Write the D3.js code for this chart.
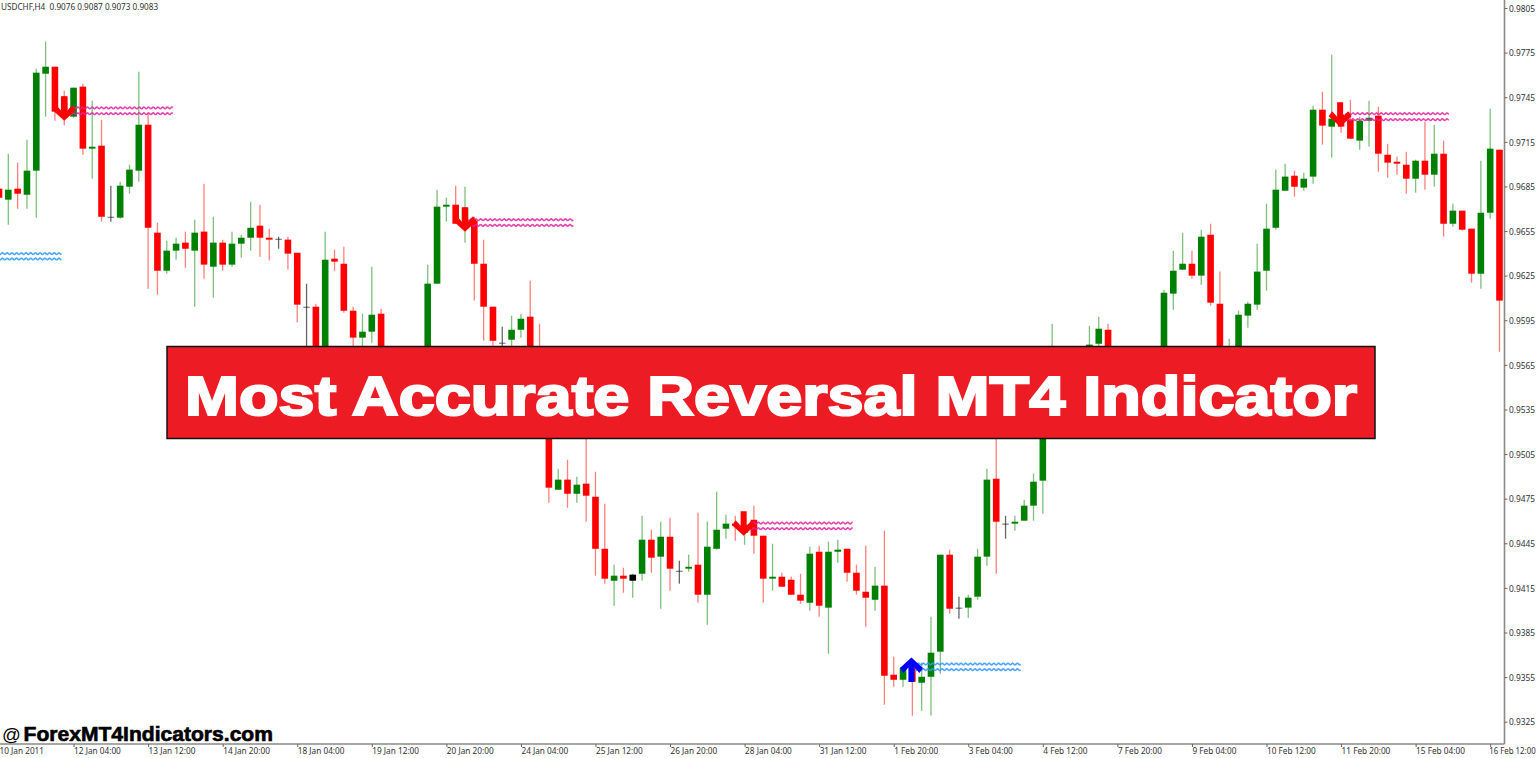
<!DOCTYPE html>
<html>
<head>
<meta charset="utf-8">
<title>USDCHF,H4</title>
<script src="https://cdn.jsdelivr.net/npm/d3@7"></script>
<style>
html,body{margin:0;padding:0;background:#fff;overflow:hidden}
svg{display:block}
text{font-family:"Noto Sans",sans-serif}
</style>
</head>
<body>
<script>
const opens=[0.96835,0.96761,0.96835,0.96794,0.96956,0.97608,0.97655,0.97454,0.97319,0.97521,
0.97104,0.97124,0.96646,0.96640,0.96848,0.96956,0.97265,0.96539,0.96283,0.96418,
0.96472,0.96418,0.96546,0.96310,0.96472,0.96324,0.96465,0.96505,0.96586,0.96505,
0.96498,0.96492,0.96404,0.96041,0.96041,0.95550,0.96364,0.96330,0.96014,0.95833,
0.95873,0.95994,0.95584,0.95449,0.95516,0.95631,0.95416,0.96196,0.96714,0.96727,
0.96586,0.96620,0.96330,0.96041,0.95799,0.95819,0.95886,0.95974,0.95685,0.95604,
0.94810,0.94878,0.94783,0.94851,0.94763,0.94413,0.94198,0.94232,0.94198,0.94245,
0.94474,0.94360,0.94494,0.94265,0.94279,0.94306,0.94104,0.94413,0.94548,0.94582,
0.94521,0.94608,0.94501,0.94212,0.94225,0.94205,0.94104,0.94050,0.94393,0.94017,
0.94393,0.94413,0.94252,0.94124,0.94070,0.94165,0.93566,0.93532,0.93613,0.93512,
0.93552,0.93721,0.94373,0.94017,0.94017,0.94091,0.94360,0.94884,0.94582,0.94582,
0.94602,0.94703,0.94871,0.95247,0.95617,0.95469,0.95416,0.95617,0.95792,0.95886,
0.95671,0.95469,0.95591,0.95496,0.95584,0.95584,0.96129,0.96290,0.96330,0.96250,
0.96525,0.96061,0.95550,0.95449,0.95981,0.96055,0.96283,0.96572,0.96821,0.96922,
0.96842,0.96916,0.97366,0.97252,0.97333,0.97299,0.97158,0.97292,0.97326,0.97063,
0.97016,0.96996,0.96902,0.97023,0.96929,0.97070,0.96599,0.96687,0.96566,0.96263,
0.96673,0.97097];
const highs=[0.96895,0.97070,0.97010,0.97164,0.97642,0.97824,0.97655,0.97494,0.97514,0.97541,
0.97427,0.97299,0.96855,0.96882,0.96996,0.97622,0.97346,0.96606,0.96485,0.96505,
0.96546,0.96626,0.96868,0.96646,0.96492,0.96546,0.96525,0.96747,0.96727,0.96566,
0.96512,0.96512,0.96404,0.96196,0.96061,0.96546,0.96424,0.96445,0.96041,0.95994,
0.96310,0.96028,0.95617,0.95651,0.95685,0.95718,0.96324,0.96828,0.96774,0.96855,
0.96848,0.96646,0.96492,0.96041,0.95907,0.95981,0.95994,0.96216,0.95927,0.95651,
0.94952,0.95012,0.94898,0.95281,0.94931,0.94716,0.94306,0.94286,0.94245,0.94635,
0.94541,0.94595,0.94622,0.94333,0.94373,0.94656,0.94595,0.94797,0.94642,0.94635,
0.94642,0.94703,0.94501,0.94447,0.94252,0.94225,0.94245,0.94427,0.94434,0.94461,
0.94474,0.94413,0.94306,0.94434,0.94292,0.94535,0.93687,0.93613,0.93613,0.93647,
0.93956,0.94373,0.94407,0.94091,0.94104,0.94413,0.94952,0.95281,0.94635,0.94635,
0.94743,0.94918,0.95281,0.95927,0.95671,0.95550,0.95698,0.95913,0.95974,0.95927,
0.95718,0.95698,0.95671,0.95685,0.95752,0.96155,0.96418,0.96539,0.96418,0.96559,
0.96599,0.96277,0.95826,0.96014,0.96075,0.96465,0.96734,0.96963,0.97003,0.96956,
0.96942,0.97393,0.97487,0.97736,0.97420,0.97433,0.97319,0.97427,0.97386,0.97137,
0.97050,0.97084,0.97030,0.97285,0.97265,0.97158,0.96734,0.96687,0.96566,0.97023,
0.97373,0.97097];
const lows=[0.96727,0.96593,0.96700,0.96700,0.96640,0.97319,0.97292,0.97259,0.97312,0.97063,
0.96902,0.96613,0.96613,0.96633,0.96801,0.96882,0.96162,0.96122,0.96263,0.96357,
0.96303,0.96041,0.96229,0.96102,0.96283,0.96310,0.96371,0.96418,0.96377,0.96351,
0.96431,0.96290,0.95934,0.95617,0.95348,0.95416,0.96283,0.96001,0.95752,0.95752,
0.95799,0.95449,0.95348,0.95382,0.95449,0.95469,0.95315,0.96196,0.96613,0.96599,
0.96472,0.96082,0.95812,0.95779,0.95752,0.95752,0.95833,0.95516,0.95550,0.94723,
0.94810,0.94689,0.94723,0.94595,0.94232,0.94178,0.94030,0.94117,0.94084,0.94198,
0.94252,0.94010,0.94131,0.94178,0.94259,0.94050,0.93902,0.94407,0.94481,0.94467,
0.94440,0.94380,0.94050,0.94131,0.94158,0.94104,0.94043,0.93996,0.93956,0.93707,
0.94319,0.94192,0.94104,0.93889,0.93996,0.93364,0.93485,0.93485,0.93290,0.93324,
0.93290,0.93573,0.93976,0.93943,0.93949,0.94070,0.94299,0.94245,0.94481,0.94535,
0.94602,0.94602,0.94649,0.95200,0.95402,0.95335,0.95348,0.95550,0.95752,0.95604,
0.95449,0.95416,0.95348,0.95429,0.95516,0.95516,0.96021,0.96290,0.96229,0.96189,
0.96048,0.95449,0.95449,0.95348,0.95900,0.96021,0.96149,0.96559,0.96821,0.96781,
0.96821,0.96868,0.97131,0.97043,0.97211,0.97171,0.97097,0.97117,0.96949,0.96909,
0.96929,0.96801,0.96808,0.96828,0.96848,0.96512,0.96579,0.96552,0.96203,0.96162,
0.96633,0.95738];
const closes=[0.96774,0.96828,0.96801,0.96956,0.97615,0.97655,0.97353,0.97319,0.97514,0.97104,
0.97117,0.96646,0.96646,0.96855,0.96963,0.97265,0.96572,0.96283,0.96418,0.96465,
0.96431,0.96539,0.96324,0.96472,0.96324,0.96465,0.96505,0.96572,0.96505,0.96492,
0.96498,0.96398,0.96055,0.96041,0.95483,0.96357,0.96344,0.96014,0.95833,0.95873,
0.95987,0.95550,0.95449,0.95550,0.95617,0.95537,0.96196,0.96714,0.96727,0.96599,
0.96707,0.96330,0.96041,0.95812,0.95799,0.95886,0.95960,0.95617,0.95604,0.94824,
0.94878,0.94783,0.94844,0.94770,0.94413,0.94212,0.94232,0.94212,0.94239,0.94474,
0.94353,0.94494,0.94279,0.94265,0.94292,0.94104,0.94427,0.94541,0.94582,0.94568,
0.94575,0.94501,0.94212,0.94225,0.94158,0.94104,0.94064,0.94380,0.94030,0.94393,
0.94407,0.94252,0.94131,0.94084,0.94165,0.93559,0.93532,0.93613,0.93519,0.93552,
0.93714,0.94373,0.94010,0.94017,0.94084,0.94360,0.94878,0.94595,0.94582,0.94595,
0.94703,0.94864,0.95247,0.95685,0.95449,0.95382,0.95617,0.95786,0.95893,0.95685,
0.95516,0.95604,0.95483,0.95617,0.95685,0.96135,0.96283,0.96330,0.96250,0.96512,
0.96068,0.95516,0.95685,0.95987,0.96061,0.96277,0.96566,0.96828,0.96916,0.96848,
0.96902,0.97366,0.97259,0.97306,0.97252,0.97171,0.97292,0.97312,0.97070,0.97010,
0.97003,0.96902,0.97023,0.96929,0.97070,0.96599,0.96687,0.96559,0.96263,0.96673,
0.97104,0.96082];
const blackBodyBars=[68];

const priceTicks=[0.9805,0.9775,0.9745,0.9715,0.9685,0.9655,0.9625,0.9595,0.9565,0.9535,0.9505,0.9475,0.9445,0.9415,0.9385,0.9355,0.9325];
const timeLabels=["10 Jan 2011","12 Jan 04:00","13 Jan 12:00","14 Jan 20:00","18 Jan 04:00","19 Jan 12:00","20 Jan 20:00","24 Jan 04:00","25 Jan 12:00","26 Jan 20:00","28 Jan 04:00","31 Jan 12:00","1 Feb 20:00","3 Feb 04:00","4 Feb 12:00","7 Feb 20:00","9 Feb 04:00","10 Feb 12:00","11 Feb 20:00","15 Feb 04:00","16 Feb 12:00"];
const timeBars=[0,8,16,24,32,40,48,56,64,72,80,88,96,104,112,120,128,136,144,152,160];

const arrowBars=[7,50,79.9,97.9,143.9];
const arrowPrices=[0.97292,0.96546,0.94501,0.93682,0.97252];
const arrowDirections=["down","down","down","up","down"];

const waveStarts=[7.6,50.3,80.6,144.4,0,98.3];
const waveEnds=[18.67,61.65,91.6,155.6,6.73,109.65];
const waveUpper=[0.97378,0.96626,0.94586,0.97339,0.96398,0.93638];
const waveLower=[0.97339,0.96588,0.94548,0.97299,0.96362,0.93600];
const waveKinds=["sell","sell","sell","sell","buy","buy"];

const chartTitle="USDCHF,H4  0.9076 0.9087 0.9073 0.9083";
const bannerText="Most Accurate Reversal MT4 Indicator";
const footerAt="@";
const footerText="ForexMT4Indicators.com";

const W=1536,H=758,axisX=1504.5,axisY=744;
const GREEN="#008000",RED="#ff0000",PINK="#e0259c",AZURE="#2f96ff";
const x=d3.scaleLinear().domain([0,161]).range([-1,1499.5]);
const y=d3.scaleLinear().domain([0.9325,0.9805]).range([721.7,8]);

const svg=d3.select("body").append("svg").attr("width",W).attr("height",H).attr("viewBox",`0 0 ${W} ${H}`);
svg.append("rect").attr("width",W).attr("height",H).attr("fill","#fff");
const defs=svg.append("defs");
defs.append("filter").attr("id","soft").attr("filterUnits","userSpaceOnUse")
  .attr("x",0).attr("y",0).attr("width",W).attr("height",H)
  .append("feGaussianBlur").attr("stdDeviation",0.35);
defs.append("clipPath").attr("id","plot").append("rect").attr("width",axisX).attr("height",axisY);

const bars=opens.map((o,i)=>({i,o,h:highs[i],l:lows[i],c:closes[i],black:blackBodyBars.includes(i)}));
const col=d=>d.o===d.c?"#000":(d.c>d.o?GREEN:RED);

const plot=svg.append("g").attr("clip-path","url(#plot)").append("g").attr("filter","url(#soft)");
plot.selectAll("line.wick").data(bars).join("line").attr("class","wick")
  .attr("x1",d=>x(d.i)).attr("x2",d=>x(d.i)).attr("y1",d=>y(d.h)).attr("y2",d=>y(d.l))
  .attr("stroke",col).attr("stroke-width",1.3).attr("stroke-opacity",d=>d.o===d.c?0.6:0.5);
const bw=6.6;
plot.selectAll("rect.body").data(bars).join("rect").attr("class","body")
  .attr("x",d=>x(d.i)-bw/2).attr("width",bw)
  .attr("y",d=>y(Math.max(d.o,d.c)))
  .attr("height",d=>d.o===d.c?1:Math.max(1.6,y(Math.min(d.o,d.c))-y(Math.max(d.o,d.c))))
  .attr("fill",d=>d.black?"#000":col(d))
  .attr("fill-opacity",d=>d.o===d.c?0.6:1);

// indicator wave lines
const waves=plot.append("g");
waveStarts.forEach((s,k)=>{
  const x0=x(s),x1=x(waveEnds[k]);
  [waveUpper[k],waveLower[k]].forEach(p=>{
    const yy=y(p),pts=[];
    for(let px=x0;px<=x1;px+=0.5) pts.push([px,yy+0.8*Math.sin((px-x0)*2*Math.PI/4.7)]);
    waves.append("path").attr("d",d3.line()(pts)).attr("fill","none")
      .attr("stroke",waveKinds[k]==="sell"?PINK:AZURE).attr("stroke-width",1.6).attr("stroke-opacity",0.85);
  });
});

// reversal arrows: fixed glyph anchored at bar and tip price
plot.selectAll("path.arrow").data(arrowBars.map((b,k)=>({b,p:arrowPrices[k],dir:arrowDirections[k]}))).join("path")
  .attr("class","arrow")
  .attr("transform",d=>`translate(${x(d.b)},${y(d.p)}) scale(1,${d.dir==="up"?-1:1})`)
  .attr("d","M0 0L-11.5 -10.5L-8 -15.5L-3 -10L-3 -24.5L3 -24.5L3 -10L8 -15.5L11.5 -10.5Z")
  .attr("fill",d=>d.dir==="up"?"#0000ff":RED);

// axes (small labels squeezed horizontally, as in the resized terminal screenshot)
const gy=svg.append("g").attr("transform",`translate(${axisX},0)`)
  .call(d3.axisRight(y).tickValues(priceTicks).tickSize(3).tickPadding(1.5).tickFormat(d3.format(".4f")));
gy.select(".domain").attr("d",`M0 0V${axisY}`).attr("stroke","#8a8a8a").attr("stroke-width",1.6);
gy.selectAll(".tick line").attr("stroke","#666");
gy.selectAll(".tick text").attr("font-size",9.6).attr("fill","#333").style("font-family",'"Noto Sans",sans-serif').attr("dy","0.34em")
  .attr("x",0).attr("transform","translate(4.5,0) scale(0.87,1)");

const gx=svg.append("g").attr("transform",`translate(0,${axisY})`)
  .call(d3.axisBottom(x).tickValues(timeBars).tickSize(3).tickPadding(2).tickFormat((d,i)=>timeLabels[i]));
gx.select(".domain").attr("d",`M0 0H${axisX}`).attr("stroke","#8a8a8a").attr("stroke-width",1.6);
gx.selectAll(".tick line").attr("stroke","#666");
gx.selectAll(".tick text").attr("font-size",9.6).attr("fill","#333").attr("text-anchor","start").attr("y",3).attr("dy","0.71em").style("font-family",'"Noto Sans",sans-serif')
  .attr("x",0).attr("transform",(d,i)=>i===timeBars.length-1?"translate(-1.5,0) scale(0.82,1)":"scale(0.86,1)");

svg.append("text").attr("transform","translate(1,10) scale(0.89,1)").attr("font-size",9.2).attr("fill","#333").style("white-space","pre").text(chartTitle);

// banner
svg.append("rect").attr("x",167).attr("y",346.5).attr("width",1208).attr("height",92)
  .attr("fill","#ed1c24").attr("stroke","#111").attr("stroke-width",1.5);
svg.append("text").attr("x",185).attr("y",414.5).attr("textLength",1172).attr("lengthAdjust","spacingAndGlyphs")
  .attr("font-size",56).attr("font-weight",700).attr("fill","#fff").attr("stroke","#fff").attr("stroke-width",2.2)
  .style("font-family",'"Liberation Sans",Arial,sans-serif').text(bannerText);

// footer watermark
svg.append("text").attr("x",2).attr("y",741).attr("font-size",18.5).attr("fill","#000")
  .style("font-family",'"Liberation Sans",Arial,sans-serif').text(footerAt);
svg.append("text").attr("x",23.5).attr("y",741).attr("textLength",249.5).attr("lengthAdjust","spacingAndGlyphs")
  .attr("font-size",19.5).attr("font-weight",700).attr("fill","#000").attr("stroke","#000").attr("stroke-width",0.6)
  .style("font-family",'"Liberation Sans",Arial,sans-serif').text(footerText);
</script>
</body>
</html>
